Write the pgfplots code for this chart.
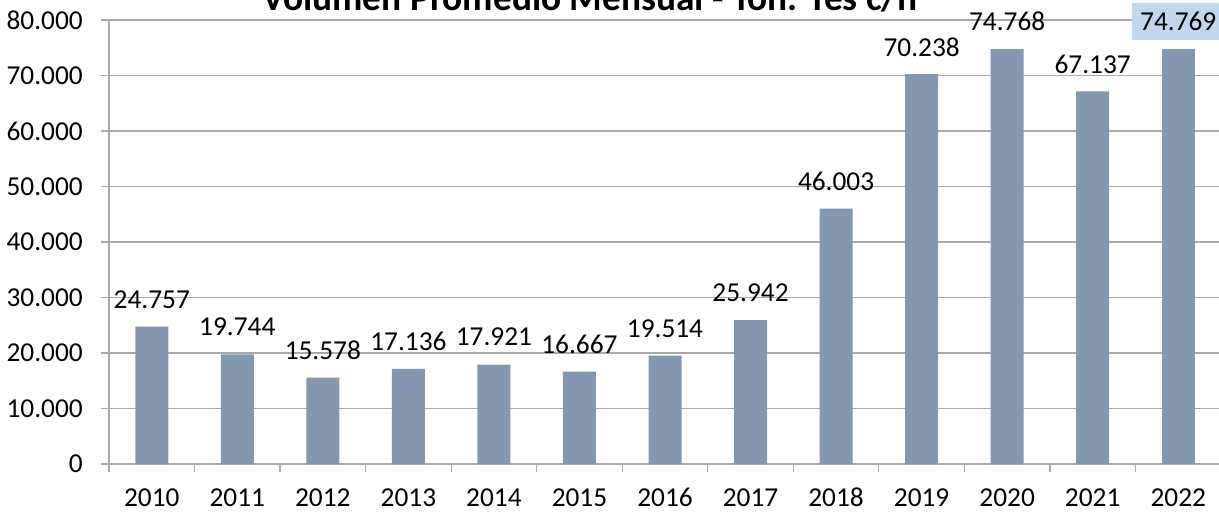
\documentclass[border=0pt]{standalone}
\usepackage{fontspec}
\setmainfont{Carlito}
\usepackage{pgfplots}
\pgfplotsset{compat=1.18}
\definecolor{barc}{RGB}{132,151,176}
\definecolor{gridc}{RGB}{170,170,170}
\definecolor{hl}{RGB}{193,215,240}
\begin{document}
\begin{tikzpicture}
\begin{axis}[
  scale only axis,
  width=834pt, height=333pt,
  xmin=-0.5, xmax=12.5,
  ymin=0, ymax=80000,
  ytick={0,10000,...,80000},
  scaled y ticks=false,
  xtick={0,...,12},
  xticklabels={2010,2011,2012,2013,2014,2015,2016,2017,2018,2019,2020,2021,2022},
  minor xtick={-0.5,0.5,...,12.5},
  axis x line*=bottom, axis y line*=left,
  axis line style={gridc, line width=0.9pt, -},
  ymajorgrids, major grid style={gridc, line width=0.9pt},
  tick align=outside,
  major tick length=6pt, minor tick length=6pt,
  x tick style={draw=none},
  minor x tick style={draw=gridc, line width=0.9pt},
  y tick style={gridc, line width=0.9pt},
  tick label style={font=\fontsize{20.5}{22}\selectfont, text=black},
  yticklabel style={anchor=east, inner sep=0pt, xshift=-13.5pt},
  xticklabel style={anchor=center, inner sep=0pt, yshift=-19pt},
  /pgf/number format/.cd, assume math mode=true, 1000 sep={.}, fixed, precision=0,
  /pgfplots/.cd,
  ybar, bar width=24.75pt, bar shift=0pt,
  nodes near coords,
  nodes near coords style={font=\fontsize{20.5}{22}\selectfont, text=black, anchor=center, yshift=20.5pt, inner sep=0pt},
  clip=false,
]
\addplot[fill=barc, draw=none] coordinates {
(0,24757) (1,19744) (2,15578) (3,17136) (4,17921) (5,16667) (6,19514)
(7,25942) (8,46003) (9,70238) (10,74768) (11,67137)};
\addplot[fill=barc, draw=none, nodes near coords style={fill=hl, inner xsep=6pt, inner ysep=7pt}] coordinates {(12,74769)};
\end{axis}
\node[anchor=base, font=\fontsize{28}{32}\bfseries] at (361pt,340pt) {Volumen Promedio Mensual - Ton. Tes c/h};
\pgfresetboundingbox
\useasboundingbox (-81.75pt,-38.25pt) rectangle (832.5pt,348pt);
\end{tikzpicture}
\end{document}
